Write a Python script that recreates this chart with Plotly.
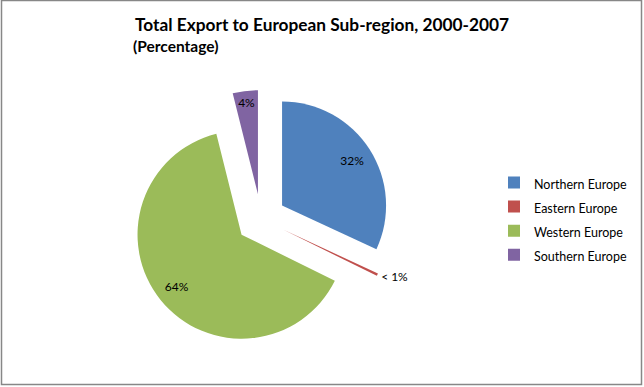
import plotly.graph_objects as go

regions = ["Northern Europe", "Eastern Europe", "Western Europe", "Southern Europe"]
shares = [31.9, 0.4, 63.8, 3.9]
share_labels = ["32%", "< 1%", "64%", "4%"]
colors = ["#4F81BD", "#C0504D", "#9BBB59", "#8064A2"]

W, H = 644, 387
DOMAIN = dict(x=[132 / W, 390 / W], y=[1 - 348 / H, 1 - 90 / H])
PULL = [0.24] * len(regions)

# legend labels: small visible text inside a taller legend line (for 24px row spacing)
legend_labels = ['<span style="font-size:12.5px">%s</span>' % r for r in regions]

outside_text = [t if v < 1 else "" for t, v in zip(share_labels, shares)]
inside_text = [t if v >= 1 else "" for t, v in zip(share_labels, shares)]

fig = go.Figure()
# the visible pie (also carries the outside "< 1%" label)
fig.add_trace(go.Pie(
    labels=legend_labels,
    values=shares,
    text=outside_text,
    textinfo="text",
    textposition="outside",
    textfont=dict(family="Lato", size=12, color="#000000"),
    marker=dict(colors=colors, line=dict(width=0)),
    pull=PULL,
    sort=False,
    direction="clockwise",
    rotation=0,
    domain=DOMAIN,
    automargin=False,
    hoverinfo="skip",
))
# transparent ring used only to place the inside percentage labels near the rim
fig.add_trace(go.Pie(
    labels=legend_labels,
    values=shares,
    text=inside_text,
    textinfo="text",
    textposition="inside",
    insidetextorientation="horizontal",
    textfont=dict(family="Lato", size=12, color="#000000"),
    marker=dict(colors=["rgba(0,0,0,0)"] * len(regions), line=dict(width=0)),
    hole=0.6,
    pull=PULL,
    sort=False,
    direction="clockwise",
    rotation=0,
    domain=DOMAIN,
    automargin=False,
    showlegend=False,
    hoverinfo="skip",
))

fig.update_layout(
    width=W, height=H,
    autosize=False,
    margin=dict(l=0, r=0, t=0, b=0, pad=0, autoexpand=False),
    paper_bgcolor="white",
    plot_bgcolor="white",
    font=dict(family="Lato", color="#000000"),
    showlegend=True,
    legend=dict(
        x=494 / W, y=1 - 219 / H, xanchor="left", yanchor="middle",
        font=dict(family="Lato", size=16.2, color="#000000"),
        bgcolor="rgba(0,0,0,0)",
    ),
    annotations=[
        dict(text="<b>Total Export to European Sub-region, 2000-2007</b>",
             x=322 / W, y=1 - 24 / H, xref="paper", yref="paper",
             xanchor="center", yanchor="middle", showarrow=False,
             font=dict(family="Lato", size=17.3, color="#000000")),
        dict(text="<b>(Percentage)</b>",
             x=131 / W, y=1 - 46 / H, xref="paper", yref="paper",
             xanchor="left", yanchor="middle", showarrow=False,
             font=dict(family="Lato", size=15.5, color="#000000")),
    ],
    shapes=[
        dict(type="rect", xref="paper", yref="paper",
             x0=1.5 / W, x1=1 - 2.5 / W, y0=1 - 384.5 / H, y1=1 - 0.5 / H,
             line=dict(color="#878787", width=1.5), fillcolor="rgba(0,0,0,0)"),
    ],
)

fig.write_html("out.html",
               config=dict(displayModeBar=False, responsive=False),
               post_script="document.body.style.margin='0';document.body.style.overflow='hidden';")
